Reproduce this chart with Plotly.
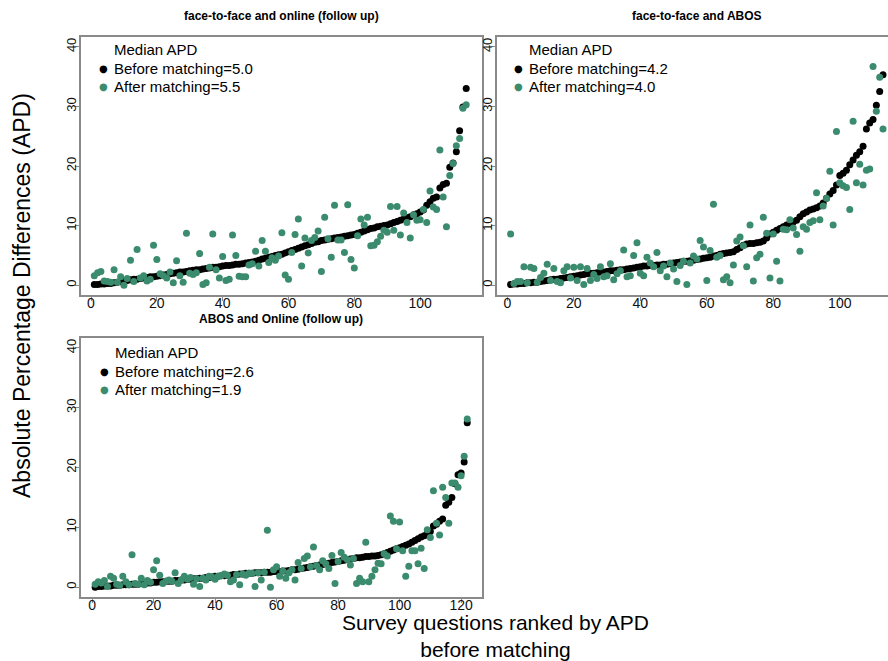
import plotly.graph_objects as go

W, H = 888, 661

# ---------------- data ----------------
panel_titles = ["face-to-face and online (follow up)", "face-to-face and ABOS", "ABOS and Online (follow up)"]
median_before = ["5.0", "4.2", "2.6"]
median_after = ["5.5", "4.0", "1.9"]

# Panel 1: face-to-face and online (follow up)
p1_before = [0.1,0.1,0.2,0.2,0.3,0.3,0.4,0.5,0.6,0.7,
             0.8,0.9,1.0,1.0,1.1,1.2,1.3,1.4,1.4,1.5,
             1.6,1.7,1.8,1.9,2.0,2.1,2.2,2.2,2.3,2.4,
             2.5,2.6,2.6,2.7,2.8,2.9,3.0,3.0,3.1,3.2,
             3.3,3.3,3.4,3.5,3.5,3.6,3.7,3.8,3.9,4.0,
             4.2,4.4,4.5,4.7,4.8,5.0,5.1,5.2,5.4,5.6,
             5.8,6.0,6.2,6.4,6.6,6.8,7.0,7.2,7.3,7.5,
             7.6,7.7,7.8,7.9,8.0,8.1,8.2,8.3,8.4,8.5,
             8.7,8.9,9.1,9.3,9.5,9.6,9.8,9.9,10.0,10.1,
             10.3,10.5,10.7,10.9,11.1,11.3,11.5,11.8,12.0,12.3,
             12.6,13.4,14.0,14.6,14.8,16.3,16.9,17.1,19.8,20.5,
             22.4,25.9,29.9,33.0]
p1_after = [1.6,2.1,2.3,0.7,0.6,0.5,2.6,0.5,1.4,0.0,
            1.1,4.2,0.6,6.0,1.2,1.6,0.7,1.0,6.7,4.3,
            1.9,1.6,1.2,2.2,0.4,4.1,1.6,0.5,8.7,2.0,
            1.8,2.1,5.3,0.1,0.4,3.0,8.6,2.6,1.2,4.8,
            0.8,1.0,8.4,5.0,1.5,1.4,1.4,3.4,3.6,5.7,
            3.2,7.5,5.7,3.8,4.6,4.2,4.9,8.8,1.7,1.0,
            5.5,8.5,11.1,3.2,7.9,5.4,7.5,8.0,9.1,2.3,
            11.4,7.8,4.7,13.4,7.6,7.6,5.5,13.5,4.3,2.9,
            8.3,11.1,10.1,11.4,6.6,6.7,7.3,8.2,9.2,8.9,
            13.2,9.2,13.2,8.4,12.1,10.5,7.9,11.8,10.9,11.0,
            12.7,10.5,15.8,13.1,12.7,22.7,14.8,9.8,18.4,20.4,
            23.4,24.6,29.7,30.3]

# Panel 2: face-to-face and ABOS
p2_before = [0.1,0.2,0.2,0.3,0.3,0.4,0.4,0.5,0.5,0.6,
             0.7,0.8,0.9,1.0,1.0,1.1,1.2,1.3,1.4,1.5,
             1.6,1.7,1.8,1.9,2.0,2.0,2.1,2.2,2.2,2.3,
             2.4,2.4,2.5,2.6,2.6,2.7,2.8,2.9,3.0,3.1,
             3.2,3.2,3.3,3.3,3.4,3.4,3.5,3.5,3.6,3.7,
             3.8,3.9,4.0,4.0,4.1,4.2,4.3,4.4,4.5,4.6,
             4.7,4.9,5.0,5.2,5.3,5.4,5.5,5.6,6.0,6.3,
             6.7,6.9,7.0,7.0,7.1,7.2,7.4,7.9,8.6,8.9,
             9.2,9.5,9.8,10.1,10.4,10.6,10.9,11.5,12.0,12.3,
             12.6,12.8,13.0,13.3,13.8,14.6,15.3,15.9,16.8,18.4,
             18.8,19.3,20.2,21.0,21.8,22.4,23.3,26.2,27.2,27.8,
             30.2,32.5,35.3]
p2_after = [8.6,0.3,0.6,0.6,3.1,0.4,3.0,2.8,0.5,1.3,
            2.0,3.5,0.8,2.8,0.6,0.4,2.4,3.1,1.2,3.0,
            0.8,3.1,0.1,2.8,0.8,1.8,1.1,3.1,1.4,1.6,
            3.6,0.9,1.9,2.4,5.9,1.4,1.6,5.0,7.1,2.0,
            1.6,4.7,3.7,3.1,5.5,2.4,3.2,1.4,3.7,2.7,
            0.6,3.3,4.0,0.1,3.7,4.9,4.4,7.5,6.4,0.8,
            5.8,13.6,4.7,5.0,0.9,1.4,0.4,3.4,7.4,8.1,
            6.6,3.1,10.1,0.7,4.6,5.2,11.4,8.7,1.2,8.6,
            4.0,0.7,9.4,9.3,11.0,9.6,8.5,5.7,9.8,9.4,
            10.5,10.8,15.5,11.0,13.3,14.6,19.1,10.1,25.8,17.2,
            16.7,16.4,12.7,27.5,17.2,20.3,16.8,19.3,19.5,36.7,
            29.2,34.9,26.2]

# Panel 3: ABOS and Online (follow up)
p3_before = [0.0,0.1,0.1,0.2,0.2,0.2,0.3,0.3,0.3,0.4,
             0.4,0.4,0.5,0.5,0.5,0.6,0.6,0.7,0.7,0.8,
             0.8,0.9,0.9,1.0,1.0,1.0,1.1,1.1,1.2,1.2,
             1.3,1.3,1.4,1.4,1.5,1.5,1.6,1.6,1.7,1.8,
             1.8,1.9,1.9,2.0,2.0,2.1,2.1,2.2,2.2,2.3,
             2.3,2.3,2.4,2.4,2.4,2.5,2.5,2.5,2.6,2.6,
             2.6,2.7,2.7,2.8,2.9,2.9,3.0,3.1,3.2,3.3,
             3.4,3.5,3.6,3.7,3.8,3.9,4.0,4.1,4.2,4.3,
             4.4,4.5,4.6,4.7,4.8,4.9,4.9,5.0,5.1,5.1,
             5.2,5.2,5.3,5.4,5.6,5.8,6.0,6.2,6.4,6.6,
             6.8,7.0,7.2,7.5,7.8,8.1,8.4,8.6,9.0,9.3,
             10.2,10.5,11.0,11.4,13.7,14.2,15.0,17.3,18.8,19.1,
             20.9,27.5]
p3_after = [0.5,0.9,0.7,1.1,0.1,1.8,1.5,0.5,0.3,1.8,
            0.9,0.4,5.4,0.6,0.5,1.5,0.4,1.1,0.8,2.9,
            4.4,2.0,0.6,1.0,1.2,1.0,2.4,0.6,1.2,1.8,
            1.3,1.6,0.5,1.4,0.1,1.5,1.2,1.8,1.7,1.3,
            1.8,1.9,2.2,2.0,0.9,1.2,2.1,0.4,2.2,2.0,
            2.3,2.3,0.1,2.4,1.2,2.5,9.5,0.0,2.9,3.4,
            1.8,2.7,1.5,2.4,2.9,1.2,4.1,3.1,4.8,5.2,
            3.4,6.7,3.6,2.9,4.4,3.9,3.1,5.3,0.6,4.3,
            5.8,5.0,4.6,3.7,4.8,0.6,1.5,0.9,7.5,0.9,
            1.8,2.9,4.0,3.9,5.6,5.2,11.9,11.0,6.4,10.9,
            6.1,1.8,3.5,6.1,6.1,3.9,6.5,3.1,9.6,8.3,
            16.1,10.7,8.7,16.7,15.0,10.7,17.4,17.4,16.7,18.6,
            21.9,28.1]

x_ticks_12 = [0, 20, 40, 60, 80, 100]
x_ticks_3 = [0, 20, 40, 60, 80, 100, 120]
y_ticks = [0, 10, 20, 30, 40]

y_title = "Absolute Percentage Differences (APD)"
x_title = "Survey questions ranked by APD<br>before matching"

# ---------------- styling ----------------
BLACK = "#000000"
GREEN = "#3b8b6e"
GRAY = "#8a8a8a"
FONT = "Liberation Sans, Arial, sans-serif"

def px_x(p):
    return p / W

def px_y(p):
    return 1 - p / H

fig = go.Figure()

panels = [
    (p1_before, p1_after, "x", "y"),
    (p2_before, p2_after, "x2", "y2"),
    (p3_before, p3_after, "x3", "y3"),
]
for before, after, xa, ya in panels:
    fig.add_trace(go.Scatter(
        x=list(range(1, len(before) + 1)), y=before, mode="markers",
        marker=dict(color=BLACK, size=7, line=dict(width=0)),
        xaxis=xa, yaxis=ya, showlegend=False, name="Before matching"))
    fig.add_trace(go.Scatter(
        x=list(range(1, len(after) + 1)), y=after, mode="markers",
        marker=dict(color=GREEN, size=7, line=dict(width=0)),
        xaxis=xa, yaxis=ya, showlegend=False, name="After matching"))

def xaxis(domain, rng, ticks, anchor):
    return dict(domain=domain, range=rng, tickvals=ticks, anchor=anchor,
                showline=True, linecolor=GRAY, linewidth=1.5, mirror=True,
                ticks="outside", ticklen=4, tickcolor=GRAY, tickwidth=1,
                ticklabelstandoff=-10,
                showgrid=False, zeroline=False,
                tickfont=dict(size=14, color="#111", family=FONT))

def yaxis(domain, rng, anchor, mirror=True):
    return dict(domain=domain, range=rng, tickvals=y_ticks, anchor=anchor,
                showline=True, linecolor=GRAY, linewidth=1.5, mirror=mirror,
                ticks="outside", ticklen=4, tickcolor=GRAY, tickwidth=1,
                ticklabelstandoff=-6,
                showgrid=False, zeroline=False, tickangle=-90,
                tickfont=dict(size=13, color="#111", family=FONT))

fig.update_layout(
    width=W, height=H,
    margin=dict(l=0, r=0, t=0, b=0),
    paper_bgcolor="white", plot_bgcolor="white",
    font=dict(family=FONT, color="black"),
    xaxis=xaxis([px_x(81), px_x(482)], [-3.04, 118.8], x_ticks_12, "y"),
    yaxis=yaxis([px_y(295), px_y(37)], [-1.65, 41.65], "x"),
    xaxis2=xaxis([px_x(497), 1.0], [-3.1, 114.5], x_ticks_12, "y2"),
    yaxis2=yaxis([px_y(295), px_y(37)], [-1.65, 41.65], "x2", mirror=False),
    xaxis3=xaxis([px_x(81), px_x(482)], [-3.6, 126.8], x_ticks_3, "y3"),
    yaxis3=yaxis([px_y(597), px_y(338)], [-1.65, 41.65], "x3"),
)

ann = []
# panel titles
for title, cx, cy in [(panel_titles[0], 281, 16), (panel_titles[1], 697, 16), (panel_titles[2], 281, 319)]:
    ann.append(dict(text="<b>" + title + "</b>", x=px_x(cx), y=px_y(cy), xref="paper", yref="paper",
                    xanchor="center", yanchor="middle", showarrow=False,
                    font=dict(size=12, color="black", family=FONT)))

# legends
legend_pos = [(103, 112, 49, 68, 87), (518, 527, 49, 68, 87), (104, 113, 352, 371, 389)]
for i, (bx, tx, y0, y1, y2) in enumerate(legend_pos):
    ann.append(dict(text="Median APD", x=px_x(tx), y=px_y(y0), xref="paper", yref="paper",
                    xanchor="left", yanchor="middle", showarrow=False,
                    font=dict(size=15, color="black", family=FONT)))
    ann.append(dict(text="Before matching=" + median_before[i], x=px_x(tx), y=px_y(y1), xref="paper", yref="paper",
                    xanchor="left", yanchor="middle", showarrow=False,
                    font=dict(size=15, color="black", family=FONT)))
    ann.append(dict(text="After matching=" + median_after[i], x=px_x(tx), y=px_y(y2), xref="paper", yref="paper",
                    xanchor="left", yanchor="middle", showarrow=False,
                    font=dict(size=15, color="black", family=FONT)))
    ann.append(dict(text="●", x=px_x(bx), y=px_y(y1), xref="paper", yref="paper",
                    xanchor="center", yanchor="middle", showarrow=False,
                    font=dict(size=10, color=BLACK, family="DejaVu Sans")))
    ann.append(dict(text="●", x=px_x(bx), y=px_y(y2), xref="paper", yref="paper",
                    xanchor="center", yanchor="middle", showarrow=False,
                    font=dict(size=10, color=GREEN, family="DejaVu Sans")))

# axis titles
ann.append(dict(text=y_title, x=px_x(22), y=px_y(296), xref="paper", yref="paper",
                xanchor="center", yanchor="middle", showarrow=False, textangle=-90,
                font=dict(size=23, color="black", family=FONT)))
ann.append(dict(text=x_title, x=px_x(495), y=px_y(636), xref="paper", yref="paper",
                xanchor="center", yanchor="middle", showarrow=False,
                font=dict(size=21, color="black", family=FONT)))

fig.update_layout(annotations=ann)
fig.write_html("out.html", config={"displayModeBar": False},
               post_script="document.body.style.margin='0';document.body.style.overflow='hidden';")
